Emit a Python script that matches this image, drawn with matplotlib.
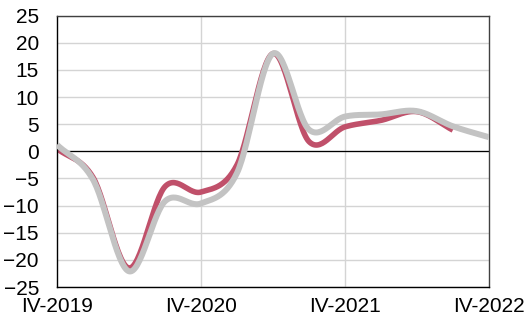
import numpy as np
import matplotlib
matplotlib.use("Agg")
import matplotlib.pyplot as plt

plt.rcParams["font.family"] = ["Liberation Sans", "DejaVu Sans"]

# Trimestres IV-2019 .. IV-2022
trimestres = ["IV-2019", "I-2020", "II-2020", "III-2020", "IV-2020",
              "I-2021", "II-2021", "III-2021", "IV-2021",
              "I-2022", "II-2022", "III-2022", "IV-2022"]
etiquetas_x = ["IV-2019", "IV-2020", "IV-2021", "IV-2022"]

serie_roja = [0.5, -4.8, -21.5, -6.5, -7.5, -2.5, 18.0, 1.8, 4.5, 5.7, 7.3, 3.9]
serie_gris = [1.2, -5.2, -22.1, -9.2, -9.6, -4.0, 18.0, 4.0, 6.4, 6.8, 7.4, 4.6, 2.6]


def suavizar(y, n=30):
    # curva suave tipo Catmull-Rom entre puntos trimestrales
    y = np.asarray(y, dtype=float)
    p = np.concatenate([[2 * y[0] - y[1]], y, [2 * y[-1] - y[-2]]])
    xs, ys = [], []
    for i in range(len(y) - 1):
        t = np.linspace(0, 1, n, endpoint=False)
        p0, p1, p2, p3 = p[i], p[i + 1], p[i + 2], p[i + 3]
        seg = 0.5 * ((2 * p1) + (-p0 + p2) * t
                     + (2 * p0 - 5 * p1 + 4 * p2 - p3) * t ** 2
                     + (-p0 + 3 * p1 - 3 * p2 + p3) * t ** 3)
        xs.append(i + t)
        ys.append(seg)
    xs.append([len(y) - 1])
    ys.append([y[-1]])
    return np.concatenate(xs), np.concatenate(ys)


fig = plt.figure(figsize=(5.28, 3.24), dpi=100)
ax = fig.add_axes([0.108, 0.114, 0.818, 0.838])

for yv in range(-25, 30, 5):
    ax.axhline(yv, color="#d4d4d4", linewidth=1.0, zorder=0)
for xv in [4, 8]:
    ax.axvline(xv, color="#d4d4d4", linewidth=1.0, zorder=0)
ax.axhline(0, color="black", linewidth=0.9, zorder=1)

xr, yr = suavizar(serie_roja)
xg, yg = suavizar(serie_gris)
ax.plot(xr, yr, color="#c0506a", linewidth=4.0, solid_capstyle="butt", zorder=2)
ax.plot(xg, yg, color="#c3c3c3", linewidth=4.3, solid_capstyle="butt", zorder=3)

ax.set_xlim(0, len(trimestres) - 1)
ax.set_ylim(-25, 25)
ax.set_yticks(range(-25, 30, 5))
ax.set_xticks([trimestres.index(e) for e in etiquetas_x])
ax.set_xticklabels(etiquetas_x)
ax.tick_params(axis="both", length=0, labelsize=15)
ax.tick_params(axis="y", pad=13)
ax.tick_params(axis="x", pad=7)

for lado in ["left", "bottom"]:
    ax.spines[lado].set_color("black")
    ax.spines[lado].set_linewidth(1.0)
for lado in ["top", "right"]:
    ax.spines[lado].set_color("#404040")
    ax.spines[lado].set_linewidth(1.0)

fig.savefig("out.png", dpi=100)
